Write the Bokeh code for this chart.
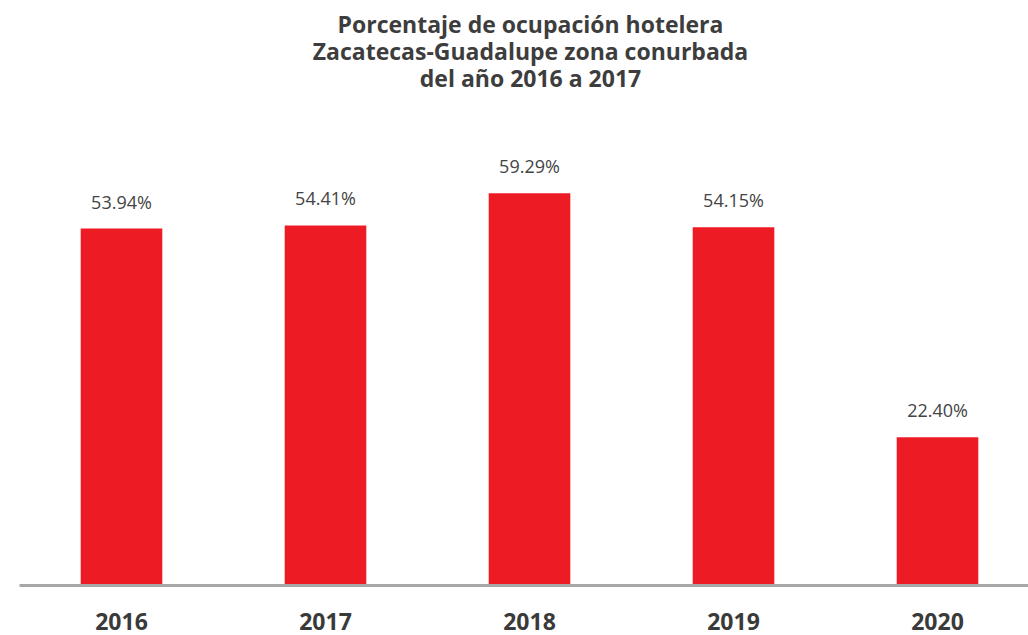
from bokeh.plotting import figure
from bokeh.models import ColumnDataSource, Range1d, Label, FixedTicker
from bokeh.core.properties import value
from bokeh.embed import file_html
from bokeh.resources import INLINE

years = ["2016", "2017", "2018", "2019", "2020"]
ocupacion = [53.94, 54.41, 59.29, 54.15, 22.40]
title_lines = [
    "Porcentaje de ocupación hotelera",
    "Zacatecas-Guadalupe zona conurbada",
    "del año 2016 a 2017",
]

xs = list(range(len(years)))
src = ColumnDataSource(dict(
    x=xs,
    top=ocupacion,
    label=[f"{v:.2f}%" for v in ocupacion],
))

FONT = "Open Sans"
W, H = 1028, 635

p = figure(width=W, height=H, output_backend="svg", toolbar_location=None,
           x_range=Range1d(-0.5, 4.446), y_range=Range1d(0, 88.4),
           min_border_left=19, min_border_right=0, min_border_top=0,
           min_border_bottom=50)
p.outline_line_color = None
p.grid.visible = False
p.yaxis.visible = False
p.background_fill_color = "white"
p.border_fill_color = "white"

p.vbar(x="x", top="top", width=0.4, bottom=0, source=src,
       fill_color="#ed1c24", line_color=None)

p.text(x="x", y="top", text="label", source=src, y_offset=-27,
       text_align="center", text_baseline="alphabetic",
       text_font=value(FONT), text_font_size="18px", text_color="#444444")

ax = p.xaxis[0]
ax.ticker = FixedTicker(ticks=xs)
ax.major_label_overrides = {i: y for i, y in zip(xs, years)}
ax.axis_line_color = "#a7a7a9"
ax.axis_line_width = 3
ax.major_tick_line_color = None
ax.minor_tick_line_color = None
ax.major_tick_out = 0
ax.major_label_standoff = 27
ax.major_label_text_font = FONT
ax.major_label_text_font_style = "bold"
ax.major_label_text_font_size = "23px"
ax.major_label_text_color = "#3a3a3a"

for i, (line, yb) in enumerate(zip(title_lines, [561.5, 534.5, 507.5])):
    p.add_layout(Label(x=511, y=yb, x_units="screen", y_units="screen",
                       text=line, text_align="center", text_baseline="alphabetic",
                       text_font=FONT, text_font_style="bold",
                       text_font_size="23px", text_color="#3d3d3d"))

open("out.html", "w").write(file_html(p, INLINE))
